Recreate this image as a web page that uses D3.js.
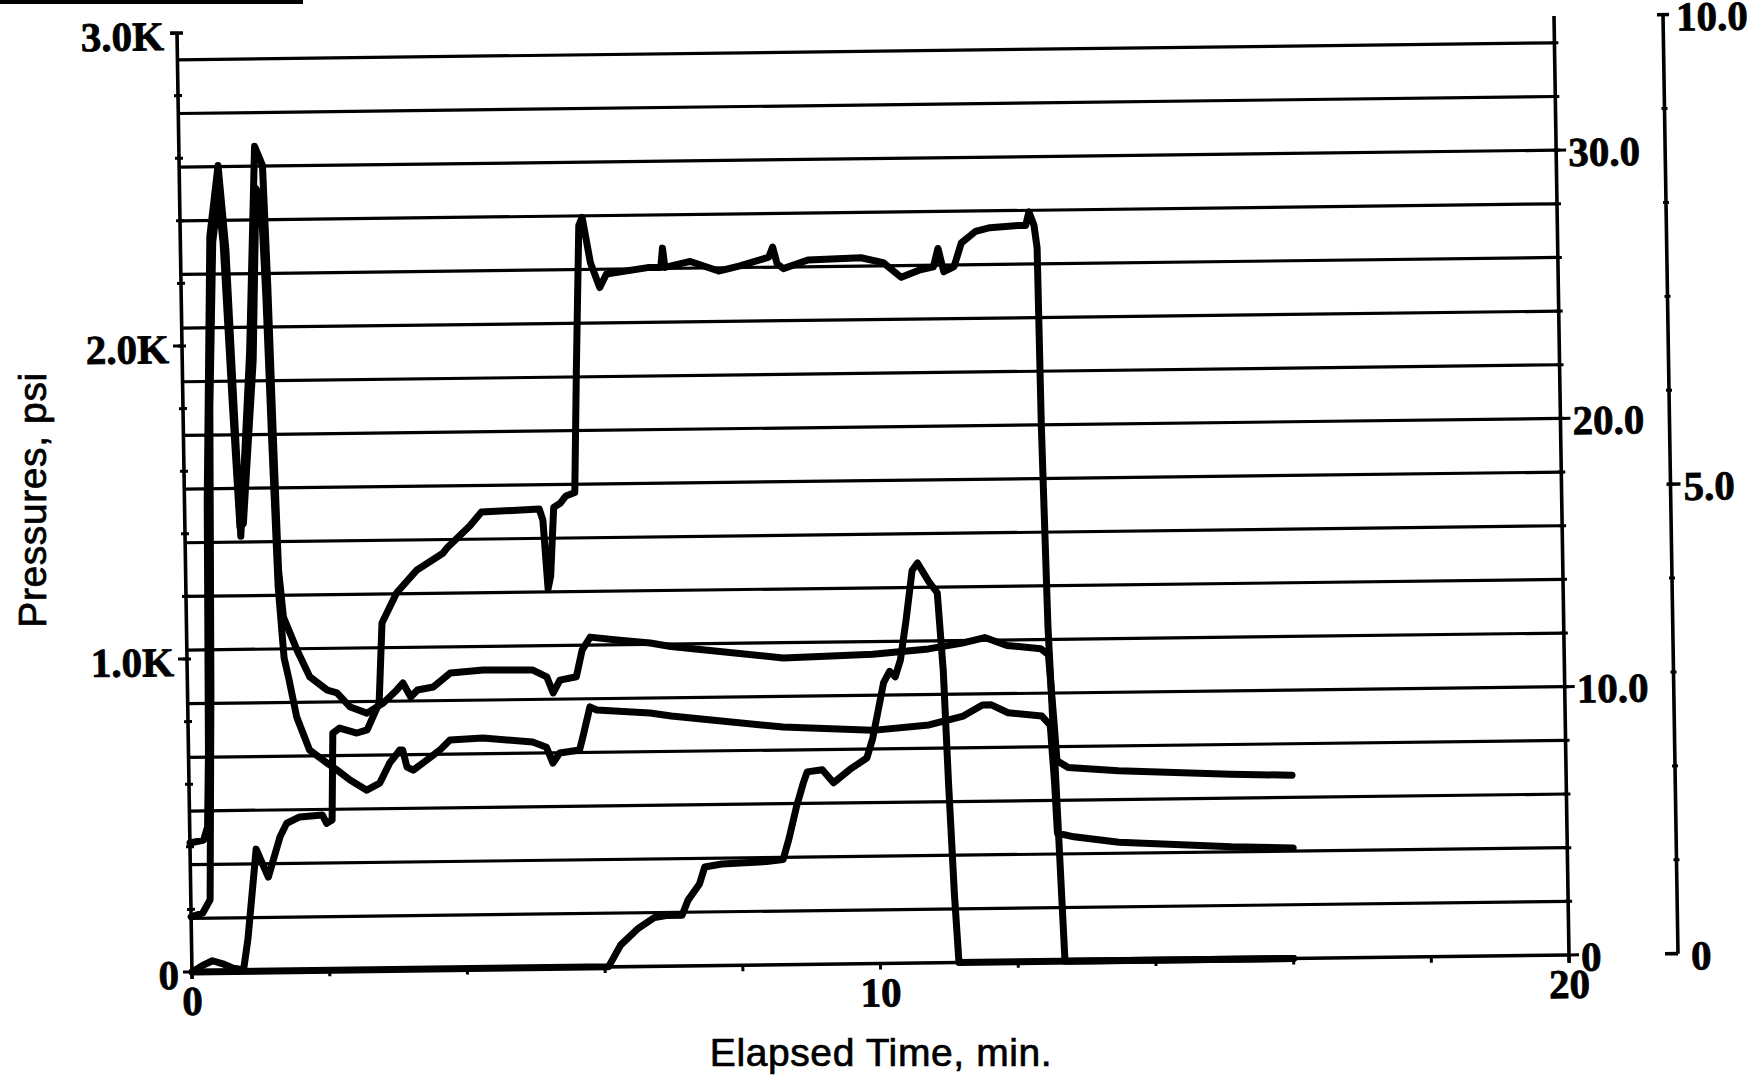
<!DOCTYPE html>
<html>
<head>
<meta charset="utf-8">
<script src="https://cdn.jsdelivr.net/npm/d3@7"></script>
<style>
  body { margin: 0; background: #fff; }
  svg { display: block; }
  .tick-label { font-family: "Liberation Serif", "Times New Roman", serif; font-weight: bold; font-size: 41px; fill: #000; stroke: #000; stroke-width: 0.8px; }
  .title { font-family: "Liberation Sans", Arial, sans-serif; font-size: 39px; fill: #000; stroke: #000; stroke-width: 0.7px; }
</style>
</head>
<body>
<svg id="chart" width="1754" height="1086"></svg>
<script>
// frame size, before the slight scan skew is applied
const W = 1377;
const H = 939;
const farAxisX = 1486;

// tick labels
const xLabels = [0, 10, 20];
const leftTicks = [0, 1000, 2000, 3000];
const leftTickLabels = ["0", "1.0K", "2.0K", "3.0K"];
const midTicks = [0, 10, 20, 30];
const midTickLabels = ["0", "10.0", "20.0", "30.0"];
const rightTicks = [0, 5, 10];
const rightTickLabels = ["0", "5.0", "10.0"];

// upper pressure trace [min, psi]
const pressureA = [
  [0, 412], [0.2, 421], [0.26, 463], [0.29, 700], [0.33, 1500], [0.43, 2350], [0.565, 2575],
  [0.66, 2305], [0.81, 1390], [0.98, 1975], [1.1, 2635], [1.21, 2574], [1.26, 2185], [1.3, 1760],
  [1.35, 1281], [1.41, 1130], [1.6, 1024], [1.78, 938], [2.03, 895], [2.17, 886], [2.36, 840],
  [2.6, 820], [2.84, 852], [3.04, 893], [3.13, 915], [3.24, 870], [3.34, 892], [3.57, 901],
  [3.82, 945], [4.3, 953], [5.02, 951], [5.22, 929], [5.31, 877], [5.41, 918], [5.65, 928],
  [5.74, 1013], [5.86, 1054], [6.25, 1044], [6.73, 1033], [7.03, 1021], [8.66, 980], [9.96, 988],
  [10.77, 1003], [11.26, 1020], [11.59, 1037], [11.91, 1011], [12.4, 999], [12.51, 980],
  [12.57, 784], [12.61, 641], [12.77, 619], [13.5, 606], [15.13, 591], [16.02, 585]
];

// lower pressure trace [min, psi]
const pressureB = [
  [0, 176], [0.17, 188], [0.28, 230], [0.34, 900], [0.39, 1800], [0.47, 2330], [0.56, 2480],
  [0.62, 2330], [0.72, 1800], [0.8, 1420], [0.85, 1430], [1.03, 1950], [1.11, 2500], [1.18, 2470],
  [1.23, 2150], [1.28, 1700], [1.34, 1230], [1.41, 1000], [1.47, 938], [1.58, 810], [1.76, 704],
  [2.01, 662], [2.15, 640], [2.34, 607], [2.58, 574], [2.77, 596], [2.92, 660], [3.07, 701],
  [3.11, 701], [3.17, 646], [3.26, 636], [3.46, 668], [3.65, 699], [3.8, 731], [4.28, 736],
  [5.0, 721], [5.2, 704], [5.29, 653], [5.39, 685], [5.68, 694], [5.73, 735], [5.84, 831],
  [5.94, 821], [6.71, 809], [7.02, 799], [8.64, 759], [9.94, 745], [10.76, 760], [11.26, 787],
  [11.54, 822], [11.67, 822], [11.91, 796], [12.4, 784], [12.52, 755], [12.57, 570], [12.6, 409],
  [12.84, 397], [13.49, 378], [15.12, 359], [16.02, 353]
];

// slurry rate [min, bpm] on the middle axis
const slurryRate = [
  [0, 0], [0.15, 0.23], [0.3, 0.41], [0.45, 0.29], [0.6, 0.12], [0.75, 0.06], [0.82, 1.2],
  [0.96, 4.55], [1.13, 3.5], [1.31, 5.0], [1.41, 5.5], [1.6, 5.73], [1.93, 5.79], [1.99, 5.48],
  [2.07, 5.6], [2.1, 8.84], [2.2, 9.02], [2.45, 8.83], [2.6, 8.94], [2.78, 9.94], [2.84, 12.92],
  [3.06, 14.04], [3.36, 14.88], [3.74, 15.49], [3.8, 15.68], [4.14, 16.5], [4.31, 17.01],
  [5.15, 17.09], [5.2, 16.68], [5.26, 14.12], [5.3, 14.58], [5.36, 17.15], [5.46, 17.31],
  [5.54, 17.57], [5.67, 17.69], [5.72, 22.17], [5.79, 27.65], [5.84, 27.94], [5.95, 26.25],
  [6.08, 25.32], [6.18, 25.82], [6.78, 26.04], [6.97, 26.04], [7.0, 26.76], [7.03, 26.04],
  [7.4, 26.25], [7.81, 25.88], [8.12, 26.06], [8.54, 26.37], [8.6, 26.75], [8.66, 26.13],
  [8.75, 25.94], [9.11, 26.25], [9.88, 26.31], [10.2, 26.12], [10.46, 25.56], [10.72, 25.82],
  [10.93, 25.94], [11.0, 26.62], [11.08, 25.75], [11.23, 25.94], [11.34, 26.81], [11.55, 27.24],
  [11.76, 27.37], [12.17, 27.44], [12.28, 27.44], [12.33, 27.94], [12.4, 27.44], [12.44, 26.6],
  [12.46, 19.99], [12.51, 12.48], [12.59, 6.64], [12.68, 0], [16.0, 0]
];

// proppant concentration [min, ppg] on the far right axis
const propConc = [
  [0, 0], [6.05, 0], [6.23, 0.23], [6.48, 0.4], [6.73, 0.52], [6.9, 0.54], [7.13, 0.54],
  [7.22, 0.7], [7.39, 0.87], [7.47, 1.05], [7.72, 1.08], [8.37, 1.1], [8.61, 1.12], [8.7, 1.34],
  [8.82, 1.69], [8.92, 1.93], [8.98, 2.05], [9.2, 2.07], [9.36, 1.93], [9.6, 2.07], [9.85, 2.19],
  [9.94, 2.4], [10.11, 2.99], [10.2, 3.11], [10.28, 3.05], [10.36, 3.23], [10.45, 3.65],
  [10.55, 4.18], [10.63, 4.26], [10.79, 4.06], [10.91, 3.94], [10.98, 3.1], [11.03, 1.91],
  [11.09, 0.72], [11.14, 0], [16.0, 0]
];

const x = d3.scaleLinear().domain([0, 20]).range([0, W]);
const yLeft = d3.scaleLinear().domain([0, 3000]).range([H, 0]);
const yMid = d3.scaleLinear().domain([0, 35]).range([H, 0]);
const yRight = d3.scaleLinear().domain([0, 10]).range([H, 0]);

const svg = d3.select("#chart");
svg.append("rect").attr("width", 1754).attr("height", 1086).attr("fill", "#fff");

// dark scan edge at the top left
svg.append("rect").attr("x", 0).attr("y", 0).attr("width", 303).attr("height", 4).attr("fill", "#000");

// the scanned page is a little skewed
const g = svg.append("g")
  .attr("transform", "matrix(1,-0.01235,0.01597,1,177,33)");

// horizontal grid every 2 units of the middle axis
g.selectAll(".grid")
  .data(d3.range(2, 35, 2))
  .enter().append("line")
  .attr("class", "grid")
  .attr("x1", 0).attr("x2", W)
  .attr("y1", d => yMid(d)).attr("y2", d => yMid(d))
  .attr("stroke", "#000").attr("stroke-width", 3.2);

// axis lines
const axisLine = (x1, y1, x2, y2) => g.append("line")
  .attr("x1", x1).attr("y1", y1).attr("x2", x2).attr("y2", y2)
  .attr("stroke", "#000").attr("stroke-width", 3.6);

axisLine(0, H, W, H);
axisLine(0, 0, 0, H + 7);
axisLine(W, 0, W, H + 8);
axisLine(farAxisX, 0, farAxisX, H);

// left axis ticks
g.selectAll(".ltick")
  .data(d3.range(200, 3000, 200))
  .enter().append("line")
  .attr("x1", -4).attr("x2", 4)
  .attr("y1", d => yLeft(d)).attr("y2", d => yLeft(d))
  .attr("stroke", "#000").attr("stroke-width", 3);
g.selectAll(".lmajor")
  .data(leftTicks.slice(0, 3))
  .enter().append("line")
  .attr("x1", -9).attr("x2", 0)
  .attr("y1", d => yLeft(d)).attr("y2", d => yLeft(d))
  .attr("stroke", "#000").attr("stroke-width", 3);
axisLine(-7, yLeft(3000), 6, yLeft(3000));

g.selectAll(".llabel")
  .data(leftTicks)
  .enter().append("text")
  .attr("class", "tick-label")
  .attr("text-anchor", "end")
  .attr("x", -13)
  .attr("y", d => yLeft(d) + 3)
  .attr("dy", "0.34em")
  .text((d, i) => leftTickLabels[i]);

// middle axis ticks
g.selectAll(".mtick")
  .data(d3.range(2, 35, 2))
  .enter().append("line")
  .attr("x1", W - 3).attr("x2", W + 4)
  .attr("y1", d => yMid(d)).attr("y2", d => yMid(d))
  .attr("stroke", "#000").attr("stroke-width", 3);
g.selectAll(".mmajor")
  .data(midTicks)
  .enter().append("line")
  .attr("x1", W).attr("x2", W + 10)
  .attr("y1", d => yMid(d)).attr("y2", d => yMid(d))
  .attr("stroke", "#000").attr("stroke-width", 3);
g.selectAll(".mlabel")
  .data(midTicks)
  .enter().append("text")
  .attr("class", "tick-label")
  .attr("x", W + 12)
  .attr("y", d => yMid(d) + 2)
  .attr("dy", "0.34em")
  .text((d, i) => midTickLabels[i]);

// far right axis ticks
g.selectAll(".rtick")
  .data(d3.range(1, 10, 1))
  .enter().append("line")
  .attr("x1", farAxisX - 3).attr("x2", farAxisX + 3)
  .attr("y1", d => yRight(d)).attr("y2", d => yRight(d))
  .attr("stroke", "#000").attr("stroke-width", 3);
axisLine(farAxisX - 4, yRight(5), farAxisX + 10, yRight(5));
axisLine(farAxisX - 6, yRight(10), farAxisX + 6, yRight(10));
axisLine(farAxisX - 13, yRight(0), farAxisX, yRight(0));
g.selectAll(".rlabel")
  .data(rightTicks)
  .enter().append("text")
  .attr("class", "tick-label")
  .attr("x", farAxisX + 13)
  .attr("y", d => yRight(d) + 2)
  .attr("dy", "0.34em")
  .text((d, i) => rightTickLabels[i]);

// time axis ticks and labels
g.selectAll(".xtick")
  .data(d3.range(0, 21, 2))
  .enter().append("line")
  .attr("x1", d => x(d)).attr("x2", d => x(d))
  .attr("y1", H).attr("y2", H + 6)
  .attr("stroke", "#000").attr("stroke-width", 3);
g.selectAll(".xlabel")
  .data(xLabels)
  .enter().append("text")
  .attr("class", "tick-label")
  .attr("text-anchor", "middle")
  .attr("x", d => x(d))
  .attr("y", H + 43)
  .text(d => d);

// traces
const drawTrace = (data, yScale) => g.append("path")
  .datum(data)
  .attr("fill", "none")
  .attr("stroke", "#000")
  .attr("stroke-width", 7)
  .attr("stroke-linejoin", "round")
  .attr("stroke-linecap", "round")
  .attr("d", d3.line().x(d => x(d[0])).y(d => yScale(d[1])));

drawTrace(propConc, yRight);
drawTrace(slurryRate, yMid);
drawTrace(pressureB, yLeft);
drawTrace(pressureA, yLeft);

// axis titles
svg.append("text")
  .attr("class", "title")
  .attr("text-anchor", "middle")
  .attr("x", 881).attr("y", 1066)
  .attr("letter-spacing", "0.6")
  .text("Elapsed Time, min.");

svg.append("text")
  .attr("class", "title")
  .attr("text-anchor", "middle")
  .attr("transform", "translate(46,500) rotate(-90)")
  .attr("letter-spacing", "0.6")
  .text("Pressures, psi");
</script>
</body>
</html>
